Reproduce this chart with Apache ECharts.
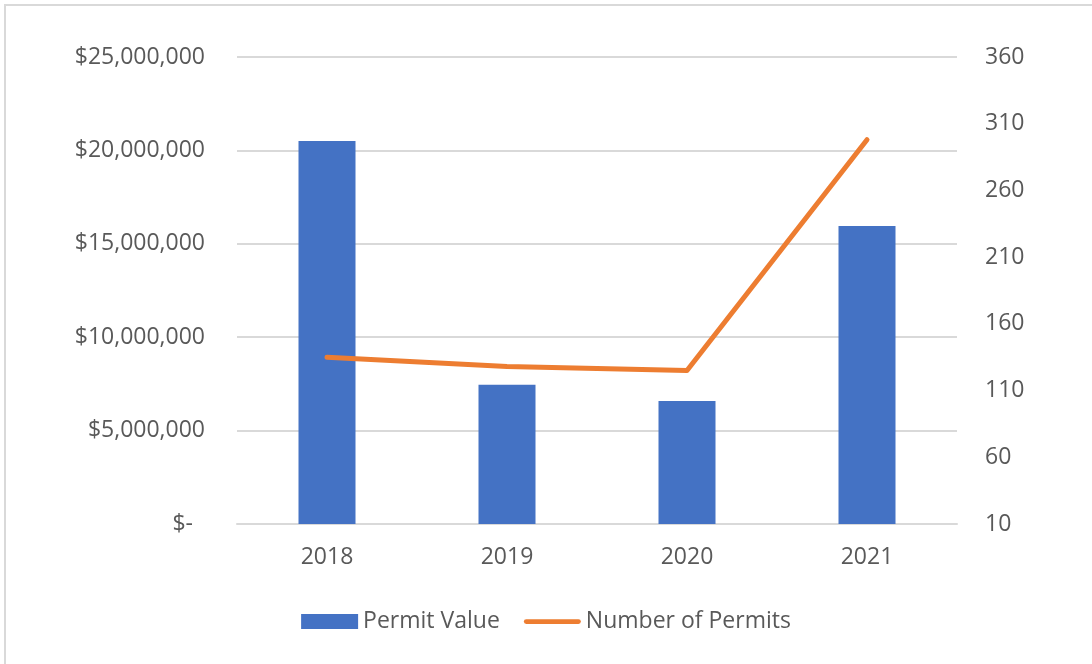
<!DOCTYPE html>
<html>
<head>
<meta charset="utf-8">
<script src="https://cdn.jsdelivr.net/npm/echarts@6/dist/echarts.min.js"></script>
<style>
  html, body { margin: 0; padding: 0; background: #fff; overflow: hidden; }
  #wrap { position: absolute; left: 4px; top: 4px; width: 1110px; height: 700px; border: 2px solid #d9d9d9; box-sizing: border-box; }
  #chart { position: absolute; left: 0; top: 0; width: 1092px; height: 664px; }
</style>
</head>
<body>
<div id="wrap"></div>
<div id="chart"></div>
<script>
const years = ['2018', '2019', '2020', '2021'];
const permitValue = [20500000, 7450000, 6580000, 15950000];
const permitCount = [135, 128, 125, 298];

const textColor = '#595959';
const fontFamily = 'Open Sans, Noto Sans, sans-serif';
const fontSize = 23;

const chart = echarts.init(document.getElementById('chart'));

const money = (v) => {
  if (v === 0) return '{dash|$-}';
  return '$' + v.toLocaleString('en-US');
};

chart.setOption({
  animation: false,
  grid: { left: 237, right: 135, top: 57, bottom: 140 },
  legend: {
    top: 605,
    left: 'center',
    itemGap: 24,
    itemWidth: 57,
    itemHeight: 15,
    textStyle: { color: textColor, fontSize, fontFamily },
    data: [
      { name: 'Permit Value', icon: 'rect' },
      { name: 'Number of Permits', icon: 'path://M5,0 L115,0 A5,5 0 0 1 115,10 L5,10 A5,5 0 0 1 5,0 Z', itemStyle: { color: '#ED7D31' } }
    ]
  },
  xAxis: {
    type: 'category',
    data: years,
    axisTick: { show: false },
    axisLine: { lineStyle: { color: '#d9d9d9', width: 2 } },
    axisLabel: { color: textColor, fontSize, fontFamily, margin: 22 }
  },
  yAxis: [
    {
      type: 'value',
      min: 0,
      max: 25000000,
      interval: 5000000,
      axisLine: { show: false },
      axisTick: { show: false },
      splitLine: { lineStyle: { color: '#d9d9d9', width: 2 } },
      axisLabel: {
        color: textColor, fontSize, fontFamily, margin: 32,
        formatter: money,
        rich: { dash: { color: textColor, fontSize, fontFamily, padding: [0, 12, 0, 0] } }
      }
    },
    {
      type: 'value',
      min: 10,
      max: 360,
      interval: 50,
      position: 'right',
      axisLine: { show: false },
      axisTick: { show: false },
      splitLine: { show: false },
      axisLabel: { color: textColor, fontSize, fontFamily, margin: 28 }
    }
  ],
  series: [
    {
      name: 'Permit Value',
      type: 'bar',
      data: permitValue,
      barWidth: 57,
      itemStyle: { color: '#4472C4' }
    },
    {
      name: 'Number of Permits',
      type: 'line',
      yAxisIndex: 1,
      data: permitCount,
      symbol: 'none',
      lineStyle: { color: '#ED7D31', width: 5, cap: 'round', join: 'round' },
      itemStyle: { color: '#ED7D31' }
    }
  ]
});
</script>
</body>
</html>
